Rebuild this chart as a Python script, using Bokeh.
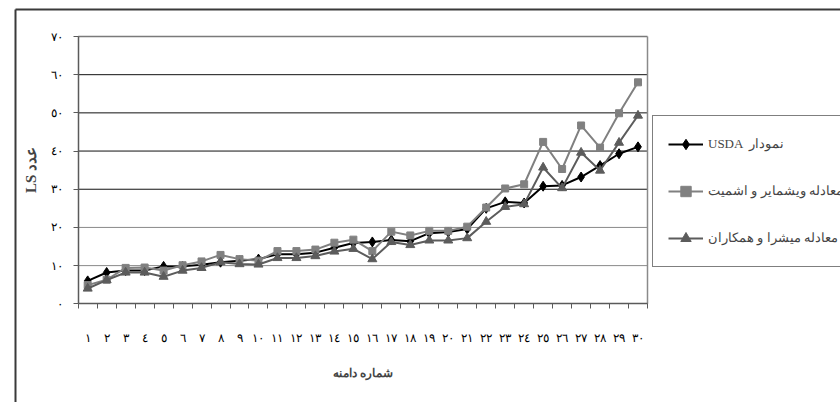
from bokeh.plotting import figure
from bokeh.models import FixedTicker, Legend, LegendItem, Range1d
from bokeh.embed import file_html
from bokeh.resources import INLINE

# ---- data ----
domain = list(range(1, 31))
usda = [6.0, 8.2, 8.7, 8.7, 9.8, 9.8, 10.2, 10.9, 11.3, 11.7,
        13.0, 13.0, 13.4, 14.7, 15.9, 16.2, 16.7, 16.4, 18.5, 18.8,
        19.6, 25.0, 26.7, 26.4, 30.8, 31.0, 33.2, 36.2, 39.3, 41.1]
wisch = [4.9, 6.3, 9.4, 9.5, 8.7, 10.1, 11.1, 12.8, 11.7, 11.3,
         13.8, 13.8, 14.2, 16.0, 16.8, 13.8, 18.9, 17.9, 19.1, 19.1,
         20.2, 25.2, 30.2, 31.3, 42.4, 35.3, 46.7, 40.9, 49.9, 58.0]
mishra = [4.0, 6.2, 8.2, 8.2, 7.1, 8.7, 9.4, 10.9, 10.4, 10.3,
          12.0, 12.0, 12.5, 13.7, 14.4, 11.7, 16.2, 15.4, 16.6, 16.6,
          17.2, 21.5, 25.4, 26.1, 35.7, 30.3, 39.6, 34.9, 42.2, 49.3]

x_labels = ["١", "٢", "٣", "٤", "٥", "٦", "٧", "٨", "٩", "١٠",
            "١١", "١٢", "١٣", "١٤", "١٥", "١٦", "١٧", "١٨", "١٩", "٢٠",
            "٢١", "٢٢", "٢٣", "٢٤", "٢٥", "٢٦", "٢٧", "٢٨", "٢٩", "٣٠"]
y_ticks = [0, 10, 20, 30, 40, 50, 60, 70]
y_labels = ["٠", "١٠", "٢٠", "٣٠", "٤٠", "٥٠", "٦٠", "٧٠"]

series_names = ["USDA  نمودار", "معادله ویشمایر و اشمیت", "معادله میشرا و همکاران"]
x_title = "شماره دامنه"
y_title = "LS عدد"

SERIF = "Liberation Serif"
AXIS_COL = "#5a5a5a"

# ---- layout geometry (canvas pixels) ----
W, H = 840, 402
FRAME_L, FRAME_T = 12, 6         # data frame starts here
BORDER_X, BORDER_Y = 15, 9       # outer chart border lines
PLOT_L, PLOT_R = 77.7, 647       # plot area left / right
PLOT_T, PLOT_B = 36, 303.3       # plot area top / bottom
X0, X1 = 0.5, 30.5
Y0, Y1 = 0, 70
xs = (PLOT_R - PLOT_L) / (X1 - X0)
ys = (PLOT_B - PLOT_T) / (Y1 - Y0)
x_start = X0 - (PLOT_L - FRAME_L) / xs
x_end = X1 + (W - PLOT_R) / xs
y_end = Y1 + (PLOT_T - FRAME_T) / ys
y_start = Y0 - (H - PLOT_B) / ys
bx = x_start + (BORDER_X - FRAME_L) / xs
by = y_end - (BORDER_Y - FRAME_T) / ys

p = figure(width=W, height=H,
           x_range=Range1d(x_start, x_end), y_range=Range1d(y_start, y_end),
           output_backend="svg", toolbar_location=None,
           min_border_left=FRAME_L, min_border_right=0,
           min_border_top=FRAME_T, min_border_bottom=0)
p.title.visible = False
p.background_fill_color = None
p.border_fill_color = None
p.outline_line_color = None
p.xgrid.visible = False
p.ygrid.visible = False

# plot-area grid lines and border
grid_dark = [t for t in y_ticks if 30 <= t <= 60]
grid_light = [t for t in y_ticks if 0 < t < 30]
p.segment(x0=[X0] * len(grid_dark), x1=[X1] * len(grid_dark), y0=grid_dark, y1=grid_dark,
          line_color="#111111", line_width=1)
p.segment(x0=[X0] * len(grid_light), x1=[X1] * len(grid_light), y0=grid_light, y1=grid_light,
          line_color="#8a8a8a", line_width=1)
p.segment(x0=[X0], x1=[X1], y0=[Y1], y1=[Y1], line_color="#7a7a7a", line_width=1.5)
p.segment(x0=[X1], x1=[X1], y0=[Y0], y1=[Y1], line_color="#8a8a8a", line_width=1.5)

# x axis
xa = p.xaxis[0]
xa.fixed_location = Y0
xa.bounds = (X0, X1)
xa.ticker = FixedTicker(ticks=domain, minor_ticks=[d - 0.5 for d in domain] + [X1])
xa.major_label_overrides = {d: lab for d, lab in zip(domain, x_labels)}
xa.major_tick_out = 0
xa.major_tick_in = 0
xa.minor_tick_out = 5
xa.minor_tick_in = 0
xa.minor_tick_line_color = AXIS_COL
xa.axis_line_color = AXIS_COL
xa.axis_line_width = 1.5
xa.major_label_standoff = 22
xa.major_label_text_font = SERIF
xa.major_label_text_font_size = "12px"
xa.major_label_text_color = "black"
xa.axis_label = x_title
xa.axis_label_text_font = SERIF
xa.axis_label_text_font_style = "bold"
xa.axis_label_text_font_size = "12px"
xa.axis_label_standoff = 18

# y axis
ya = p.yaxis[0]
ya.fixed_location = X0
ya.bounds = (Y0, Y1)
ya.ticker = FixedTicker(ticks=y_ticks, minor_ticks=[])
ya.major_label_overrides = {t: lab for t, lab in zip(y_ticks, y_labels)}
ya.major_tick_out = 5
ya.major_tick_in = 0
ya.major_tick_line_color = AXIS_COL
ya.axis_line_color = AXIS_COL
ya.axis_line_width = 1.5
ya.major_label_standoff = 10
ya.major_label_text_font = SERIF
ya.major_label_text_font_size = "12px"
ya.major_label_text_color = "black"
ya.axis_label = y_title
ya.axis_label_text_font = SERIF
ya.axis_label_text_font_style = "bold"
ya.axis_label_text_font_size = "15px"
ya.axis_label_standoff = 10

# series
l1 = p.line(domain, usda, line_color="black", line_width=2)
m1 = p.scatter(domain, usda, marker="diamond", size=10, fill_color="black", line_color="black")
l2 = p.line(domain, wisch, line_color="#808080", line_width=2)
m2 = p.scatter(domain, wisch, marker="square", size=7, fill_color="#808080", line_color="#808080")
l3 = p.line(domain, mishra, line_color="#5c5c5c", line_width=2)
m3 = p.scatter(domain, mishra, marker="triangle", size=9, fill_color="#5c5c5c", line_color="#5c5c5c")

# outer chart border (left and top; right/bottom lie outside the picture), drawn last
p.segment(x0=[bx, bx], x1=[bx, x_end], y0=[y_start, by], y1=[by, by],
          line_color="#3a3a3a", line_width=2)

# legend (box left at x=652, bottom at y=267 canvas)
legend = Legend(items=[
    LegendItem(label=series_names[0], renderers=[l1, m1]),
    LegendItem(label=series_names[1], renderers=[l2, m2]),
    LegendItem(label=series_names[2], renderers=[l3, m3]),
], location=(652 - FRAME_L, H - 267))
legend.border_line_color = "black"
legend.border_line_width = 1
legend.background_fill_color = "white"
legend.background_fill_alpha = 1
legend.label_text_font = SERIF
legend.label_text_font_size = "13px"
legend.glyph_width = 35
legend.glyph_height = 26
legend.label_height = 26
legend.spacing = 21
legend.padding = 15
legend.margin = 0
legend.label_standoff = 5
p.add_layout(legend)

open("out.html", "w").write(file_html(p, INLINE))
